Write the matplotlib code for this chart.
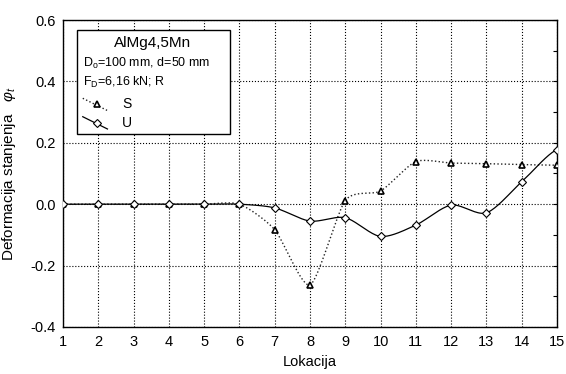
import numpy as np
import matplotlib
matplotlib.use('Agg')
from matplotlib import rcParams

rcParams['font.family'] = 'sans-serif'
rcParams['font.sans-serif'] = ['Liberation Sans', 'DejaVu Sans']
rcParams['mathtext.fontset'] = 'custom'
rcParams['mathtext.rm'] = 'Liberation Sans'

import matplotlib.pyplot as plt
from matplotlib.lines import Line2D
from matplotlib.patches import Rectangle

# ---------------- data ----------------
lokacija = [1, 2, 3, 4, 5, 6, 7, 8, 9, 10, 11, 12, 13, 14, 15]
y_S = [0.0, 0.0, 0.0, 0.0, 0.0, 0.0, -0.083, -0.263, 0.012, 0.043, 0.139, 0.134, 0.132, 0.129, 0.127]
y_U = [0.0, 0.0, 0.0, 0.0, 0.0, 0.0, -0.012, -0.055, -0.044, -0.105, -0.068, -0.003, -0.028, 0.073, 0.178]

legendTitle = 'AlMg4,5Mn'
legendLine1 = r'D$_\mathrm{o}$=100 mm, d=50 mm'
legendLine2 = r'F$_\mathrm{D}$=6,16 kN; R'


def smooth(x, y, n=20, tension=0.3):
    # cardinal spline through the points, just for drawing the curve
    x = np.asarray(x, float)
    y = np.asarray(y, float)
    k = 1.0 - tension
    px = np.concatenate([[2 * x[0] - x[1]], x, [2 * x[-1] - x[-2]]])
    py = np.concatenate([[y[0]], y, [y[-1]]])
    xs, ys = [], []
    t = np.linspace(0, 1, n, endpoint=False)
    h00 = 2 * t ** 3 - 3 * t ** 2 + 1
    h10 = t ** 3 - 2 * t ** 2 + t
    h01 = -2 * t ** 3 + 3 * t ** 2
    h11 = t ** 3 - t ** 2
    for i in range(1, len(px) - 2):
        for arr, out in ((px, xs), (py, ys)):
            p0, p1, p2, p3 = arr[i - 1], arr[i], arr[i + 1], arr[i + 2]
            m1 = k * (p2 - p0) / 2
            m2 = k * (p3 - p1) / 2
            out.extend(h00 * p1 + h10 * m1 + h01 * p2 + h11 * m2)
    xs.append(x[-1])
    ys.append(y[-1])
    return np.array(xs), np.array(ys)


fig = plt.figure(figsize=(5.66, 3.74), dpi=100)
ax1 = fig.add_axes([0.1113, 0.1257, 0.8728, 0.8208])

# curves
sx, sy = smooth(lokacija, y_S)
ux, uy = smooth(lokacija, y_U, tension=0.15)
ax1.plot(sx, sy, ':', color='#222222', lw=1.0, zorder=3)
ax1.plot(ux, uy, '-', color='black', lw=0.9, zorder=3)
ax1.plot(lokacija, y_S, linestyle='none', marker='^', ms=4.5, mfc='white',
         mec='black', mew=1.2, zorder=4)
ax1.plot(lokacija, y_U, linestyle='none', marker='D', ms=4, mfc='white',
         mec='black', mew=0.8, zorder=5)

ax1.set_xlim(1, 15)
ax1.set_ylim(-0.4, 0.6)
ax1.set_xticks(lokacija)
ax1.set_yticks([-0.4, -0.2, 0.0, 0.2, 0.4, 0.6])
ax1.set_yticklabels(['-0.4', '-0.2', '0.0', '0.2', '0.4', '0.6'])
ax1.set_yticks([-0.3, -0.1, 0.1, 0.3, 0.5], minor=True)
ax1.tick_params(axis='x', which='major', length=0, labelsize=10.5, pad=6)
ax1.tick_params(axis='y', which='major', labelsize=10.5, pad=5)
ax1.tick_params(axis='y', which='both', right=True, left=False, direction='in')
ax1.tick_params(axis='y', which='minor', length=3, width=0.8)
ax1.tick_params(axis='y', which='major', length=3, width=0.8)
ax1.grid(True, which='major', linestyle=':', color='black', lw=0.8)

for s in ax1.spines.values():
    s.set_linewidth(1.0)

ax1.set_xlabel('Lokacija', fontsize=10.5, labelpad=4)
ax1.set_ylabel(r'Deformacija stanjenja   $\varphi_t$', fontsize=11, labelpad=9)

# legend box drawn by hand (Statistica style)
ax1.add_patch(Rectangle((0.028, 0.629), 0.31, 0.338, transform=ax1.transAxes,
                        facecolor='white', edgecolor='black', lw=1.0, zorder=6))
ax1.text(0.181, 0.925, legendTitle, transform=ax1.transAxes, ha='center',
         va='center', fontsize=11, zorder=7)
ax1.text(0.04, 0.86, legendLine1, transform=ax1.transAxes, ha='left',
         va='center', fontsize=9, zorder=7)
ax1.text(0.04, 0.795, legendLine2, transform=ax1.transAxes, ha='left',
         va='center', fontsize=9, zorder=7)
ax1.add_line(Line2D([0.04, 0.09], [0.745, 0.705], transform=ax1.transAxes,
                    linestyle=':', color='#222222', lw=1.0, zorder=7))
ax1.add_line(Line2D([0.068], [0.728], transform=ax1.transAxes, marker='^',
                    ms=4.5, mfc='white', mec='black', mew=1.2, zorder=8))
ax1.text(0.12, 0.728, 'S', transform=ax1.transAxes, ha='left', va='center',
         fontsize=10, zorder=7)
ax1.add_line(Line2D([0.04, 0.09], [0.685, 0.645], transform=ax1.transAxes,
                    linestyle='-', color='black', lw=0.9, zorder=7))
ax1.add_line(Line2D([0.068], [0.664], transform=ax1.transAxes, marker='D',
                    ms=4, mfc='white', mec='black', mew=0.8, zorder=8))
ax1.text(0.12, 0.664, 'U', transform=ax1.transAxes, ha='left', va='center',
         fontsize=10, zorder=7)

plt.savefig('out.png', dpi=100)
